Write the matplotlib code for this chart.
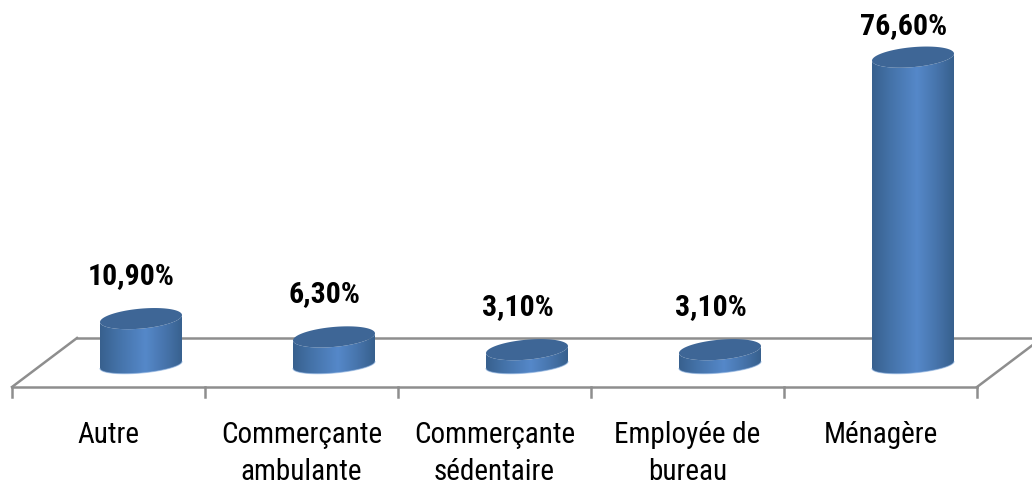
#!/usr/bin/env python3
"""Cylinder column chart on a 3D-looking floor, occupation shares."""

import matplotlib
matplotlib.use("Agg")
import matplotlib.pyplot as plt
from matplotlib.colors import LinearSegmentedColormap
from matplotlib.patches import PathPatch
from matplotlib.path import Path
import numpy as np

CATEGORIES = ["Autre", "Commerçante\nambulante", "Commerçante\nsédentaire",
              "Employée de\nbureau", "Ménagère"]
VALUES = [10.9, 6.3, 3.1, 3.1, 76.6]
VALUE_LABELS = ["10,90%", "6,30%", "3,10%", "3,10%", "76,60%"]

W, H = 1032, 486
PX_PER_UNIT = 3.98      # vertical pixels for one percentage point
PX_PER_CAT = 193.0
ZERO_PX = 362.0
FIRST_CAT_PX = 108.5

plt.rcParams["font.family"] = ["Roboto Condensed", "Liberation Sans", "DejaVu Sans"]

fig = plt.figure(figsize=(W / 100, H / 100), dpi=100)
ax = fig.add_axes([0, 0, 1, 1])
ax.set_xlim(-FIRST_CAT_PX / PX_PER_CAT, (W - FIRST_CAT_PX) / PX_PER_CAT)
ax.set_ylim((ZERO_PX - H) / PX_PER_UNIT, ZERO_PX / PX_PER_UNIT)
ax.axis("off")


def dx(px):
    return px / PX_PER_CAT


def dy(px):
    return px / PX_PER_UNIT


# floor frame, depth offsets in pixels from the front edge
FLOOR = "#8e8e8e"
front_y = dy(ZERO_PX - 387)
back_y = dy(ZERO_PX - 338)
left = -0.5
right = len(CATEGORIES) - 0.5
depth = dx(65)
line_kw = dict(color=FLOOR, lw=1.8, solid_capstyle="projecting", zorder=1)
ax.plot([left, right], [front_y, front_y], **line_kw)
ax.plot([left + depth, right + depth], [back_y, back_y], **line_kw)
ax.plot([left, left + depth], [front_y, back_y], **line_kw)
ax.plot([right, right + depth], [front_y, back_y], **line_kw)
for i in range(len(CATEGORIES) + 1):
    ax.plot([left + i, left + i], [front_y, front_y - dy(10)], **line_kw)

# cylinders
cmap = LinearSegmentedColormap.from_list(
    "cyl", [(0, "#38608e"), (0.22, "#4472a8"), (0.55, "#5588c9"),
            (0.8, "#4673aa"), (1, "#37608d")])
grad = np.linspace(0, 1, 256).reshape(1, -1)
half_w = dx(41)
top_h = dy(10)
low_h = dy(8)
skew = dy(3.5)
offset = dx(32.5)
base = -dy(3)
t = np.linspace(0, 2 * np.pi, 121)
front = np.linspace(np.pi, 2 * np.pi, 61)

for i, val in enumerate(VALUES):
    cx = i + offset
    # side surface: front half of top ellipse down to front half of bottom one
    xs = cx + half_w * np.cos(front)
    low = base + low_h * np.sin(front) + skew * np.cos(front)
    top = val + top_h * np.sin(front) + skew * np.cos(front)
    verts = np.concatenate([np.column_stack([xs, low]),
                            np.column_stack([xs[::-1], top[::-1]])])
    side = PathPatch(Path(np.vstack([verts, verts[0]]), closed=True),
                     fc="none", ec="none", transform=ax.transData)
    ax.add_patch(side)
    img = ax.imshow(grad, cmap=cmap, aspect="auto", zorder=3,
                    extent=[cx - half_w, cx + half_w, base - low_h - skew, val + skew])
    img.set_clip_path(side)
    # light fringe along the bottom rim
    ax.plot(xs, low, color="#8db2e0", lw=0.8, alpha=0.6, zorder=4)
    # top face
    ax.fill(cx + half_w * np.cos(t),
            val + top_h * np.sin(t) + skew * np.cos(t),
            color="#3e6696", lw=0, zorder=5)

    ax.text(i + dx(23), min(val + dy(43), dy(ZERO_PX - 26)), VALUE_LABELS[i],
            ha="center", va="center", fontsize=21.5, fontweight="bold", color="#000000",
            zorder=6)
    ax.text(i, dy(ZERO_PX - 435), CATEGORIES[i].split("\n")[0],
            ha="center", va="center", fontsize=21, color="#000000")
    if "\n" in CATEGORIES[i]:
        ax.text(i, dy(ZERO_PX - 472), CATEGORIES[i].split("\n")[1],
                ha="center", va="center", fontsize=21, color="#000000")

ax.set_xlim(-FIRST_CAT_PX / PX_PER_CAT, (W - FIRST_CAT_PX) / PX_PER_CAT)
ax.set_ylim((ZERO_PX - H) / PX_PER_UNIT, ZERO_PX / PX_PER_UNIT)
fig.savefig("out.png", dpi=100, facecolor="white")
